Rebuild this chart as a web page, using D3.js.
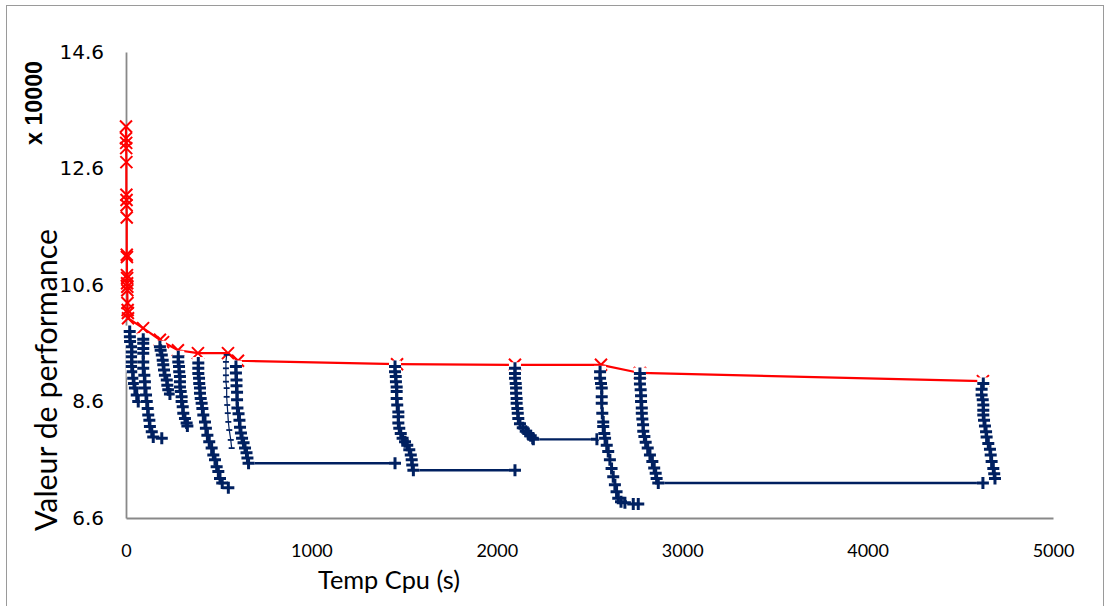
<!DOCTYPE html>
<html><head><meta charset="utf-8">
<script src="https://cdn.jsdelivr.net/npm/d3@7"></script>
<style>body{margin:0;background:#fff}svg{display:block}</style>
</head><body>
<svg id="c" width="1110" height="606"></svg>
<script>
// ---- data (performance in units of 10000) ----
const xTicks = [0, 1000, 2000, 3000, 4000, 5000];
const yTicks = [6.6, 8.6, 10.6, 12.6, 14.6];

const bestX = [0,0,1,1,2,2,3,3,4,4,5,5,6,6,7,7,8,9,10,11, 92,183,200,280,388,550,604,1462,2098,2562,2772,4622];
const bestY = [13.32,13.12,13.04,12.95,12.71,12.15,12.06,11.97,11.76,11.12,11.08,10.77,10.72,10.63,10.57,10.51,10.29,10.17,10.12,10.03, 9.86,9.66,9.62,9.48,9.43,9.43,9.30,9.24,9.23,9.23,9.09,8.95];

const run1X = [20,21,22,31,31,31,31,31,36,39,43,48,58,66];
const run1Y = [9.80,9.71,9.63,9.54,9.45,9.37,9.28,9.20,9.11,9.00,8.91,8.83,8.71,8.60];
const run2X = [93,93,93,93,93,93,99,102,102,108,112,117,120,126,129,139,147,193];
const run2Y = [9.67,9.60,9.51,9.43,9.28,9.17,9.05,8.94,8.83,8.71,8.60,8.48,8.37,8.28,8.17,8.08,7.99,7.97];
const run3X = [183,187,193,198,201,205,210,220,223,228,237];
const run3Y = [9.54,9.48,9.40,9.31,9.23,9.14,9.05,8.97,8.88,8.80,8.73];
const run4X = [282,282,286,287,291,291,291,295,300,300,306,309,318,327,331];
const run4Y = [9.37,9.28,9.20,9.11,9.03,8.94,8.85,8.77,8.68,8.60,8.51,8.40,8.31,8.23,8.18];
const run5X = [390,390,390,394,395,399,399,403,408,412,417,426,431,439,449,462,471,480,489,498,507,519,552];
const run5Y = [9.26,9.17,9.08,9.00,8.91,8.83,8.74,8.65,8.57,8.48,8.37,8.25,8.14,8.02,7.91,7.80,7.68,7.60,7.48,7.40,7.28,7.20,7.12];
const run6X = [543,539,539,539,539,543,543,546,549,552,557,565,570];
const run6Y = [9.40,9.28,9.17,9.05,8.94,8.83,8.68,8.54,8.40,8.25,8.11,7.94,7.80];
const run7X = [593,593,596,596,599,599,601,607,612,615,620,626,634,642,650,655,661,1451];
const run7Y = [9.20,9.09,8.97,8.87,8.76,8.63,8.49,8.39,8.28,8.16,8.06,7.97,7.89,7.80,7.72,7.63,7.54,7.54];
const run8X = [1451,1451,1455,1456,1460,1460,1460,1463,1469,1469,1469,1474,1482,1492,1505,1517,1528,1536,1541,1544,1550,2098];
const run8Y = [9.20,9.11,9.03,8.94,8.85,8.77,8.65,8.54,8.42,8.34,8.23,8.14,8.05,7.97,7.91,7.85,7.77,7.68,7.60,7.51,7.42,7.42];
const run9X = [2098,2098,2098,2102,2104,2104,2107,2107,2111,2113,2116,2125,2140,2156,2170,2183,2194,2197,2540];
const run9Y = [9.17,9.08,9.00,8.91,8.83,8.74,8.65,8.57,8.48,8.40,8.31,8.22,8.15,8.09,8.05,8.01,7.97,7.95,7.95];
const run10X = [2557,2557,2562,2566,2566,2566,2569,2574,2574,2580,2584,2593,2601,2610,2619,2628,2637,2646,2655,2670,2691,2736,2763];
const run10Y = [9.11,9.00,8.91,8.83,8.68,8.57,8.40,8.25,8.17,8.05,7.97,7.85,7.74,7.60,7.45,7.31,7.17,7.05,6.94,6.88,6.86,6.84,6.84];
const run11X = [2772,2772,2772,2776,2778,2778,2782,2782,2785,2789,2790,2796,2803,2814,2826,2839,2849,2857,2862,2871,4622];
const run11Y = [9.08,9.00,8.90,8.80,8.70,8.60,8.49,8.40,8.30,8.20,8.09,8.00,7.90,7.80,7.68,7.57,7.46,7.37,7.28,7.20,7.20];
const run12X = [4624,4615,4615,4621,4624,4624,4624,4628,4633,4639,4642,4651,4660,4664,4669,4678,4683,4687];
const run12Y = [8.91,8.81,8.71,8.63,8.54,8.45,8.37,8.28,8.18,8.08,7.99,7.88,7.78,7.68,7.57,7.45,7.36,7.28];

const runs = [
  [run1X, run1Y], [run2X, run2Y], [run3X, run3Y], [run4X, run4Y],
  [run5X, run5Y], [run6X, run6Y, true], [run7X, run7Y], [run8X, run8Y],
  [run9X, run9Y], [run10X, run10Y], [run11X, run11Y], [run12X, run12Y]
];

// ---- drawing ----
const svg = d3.select('#c');
const BLUE = '#002060', RED = '#ff0000', AXIS = '#898989';
const L = 126, R = 1053, T = 52, B = 518;
const x = d3.scaleLinear().domain([0, 5000]).range([L, R]);
const y = d3.scaleLinear().domain([6.6, 14.6]).range([B, T]);

svg.append('rect').attr('x', 6.5).attr('y', 5.5).attr('width', 1097).attr('height', 620)
  .attr('fill', 'none').attr('stroke', '#9a9a9a').attr('stroke-width', 1);

const ya = svg.append('g').attr('transform', `translate(${L},0)`)
  .call(d3.axisLeft(y).tickValues(yTicks).tickSize(0).tickSizeOuter(0).tickPadding(22).tickFormat(d3.format('.1f')));
ya.select('.domain').attr('stroke', AXIS).attr('stroke-width', 1.8);
ya.selectAll('text').attr('font-family', 'DejaVu Sans, Verdana, sans-serif').attr('font-size', 20).attr('fill', '#000');

const xa = svg.append('g').attr('transform', `translate(0,${B})`)
  .call(d3.axisBottom(x).tickValues(xTicks).tickSize(0).tickSizeOuter(0).tickPadding(0).tickFormat(d3.format('d')));
xa.select('.domain').attr('stroke', AXIS).attr('stroke-width', 1.8);
xa.selectAll('text').attr('font-family', 'Lato, sans-serif').attr('font-size', 18).attr('fill', '#000')
  .attr('y', 33).attr('dy', '0.35em');

// best-so-far series (red)
const bestPts = bestX.map((v, i) => [v, bestY[i]]);
const line = d3.line().x(d => x(d[0])).y(d => y(d[1]));
svg.append('path').attr('d', line(bestPts)).attr('fill', 'none').attr('stroke', RED).attr('stroke-width', 2.2);
svg.append('g').selectAll('path').data(bestPts).join('path')
  .attr('transform', d => `translate(${x(d[0])},${y(d[1])})`)
  .attr('d', 'M-6,-6L6,6M-6,6L6,-6').attr('stroke', RED).attr('stroke-width', 2).attr('fill', 'none');

// runs (blue)
runs.forEach(([rx, ry, faint]) => {
  const pts = rx.map((v, i) => [v, ry[i]]);
  const g = svg.append('g');
  g.append('path').attr('d', line(pts)).attr('fill', 'none').attr('stroke', BLUE)
    .attr('stroke-width', faint ? 1.2 : 2.4);
  if (faint) {
    g.selectAll('path.m').data(pts).join('path').attr('class', 'm')
      .attr('transform', d => `translate(${x(d[0])},${y(d[1])})`)
      .attr('d', 'M-3,0H3').attr('stroke', BLUE).attr('stroke-width', 1.8);
    return;
  }
  g.selectAll('rect').data(pts).join('rect')
    .attr('x', d => x(d[0]) - 6).attr('y', d => y(d[1]) - 6).attr('width', 12).attr('height', 12)
    .attr('fill', '#fff');
  g.selectAll('path.m').data(pts).join('path').attr('class', 'm')
    .attr('transform', d => `translate(${x(d[0])},${y(d[1])})`)
    .attr('d', 'M-6,0H6M0,-6V6').attr('stroke', BLUE).attr('stroke-width', 3);
});

// titles
function fit(sel, target) {
  const len = sel.node().getComputedTextLength();
  const fs = parseFloat(sel.attr('font-size'));
  sel.attr('font-size', fs * target / len);
}
const xt = svg.append('text').attr('x', 389).attr('y', 580).attr('dy', '0.35em').attr('text-anchor', 'middle')
  .attr('font-family', 'Lato, sans-serif').attr('font-size', 24).text('Temp Cpu (s)');
fit(xt, 142);
const yt = svg.append('text').attr('transform', 'translate(46,380) rotate(-90)').attr('dy', '0.35em')
  .attr('text-anchor', 'middle').attr('font-family', 'Lato, sans-serif').attr('font-size', 24)
  .text('Valeur de performance');
fit(yt, 302);
const xm = svg.append('text').attr('transform', 'translate(34,103) rotate(-90)').attr('dy', '0.35em')
  .attr('text-anchor', 'middle').attr('font-family', 'Liberation Sans, Arial, sans-serif').attr('font-weight', 'bold')
  .attr('font-size', 20).text('x 10000');
fit(xm, 84);
</script>
</body></html>
